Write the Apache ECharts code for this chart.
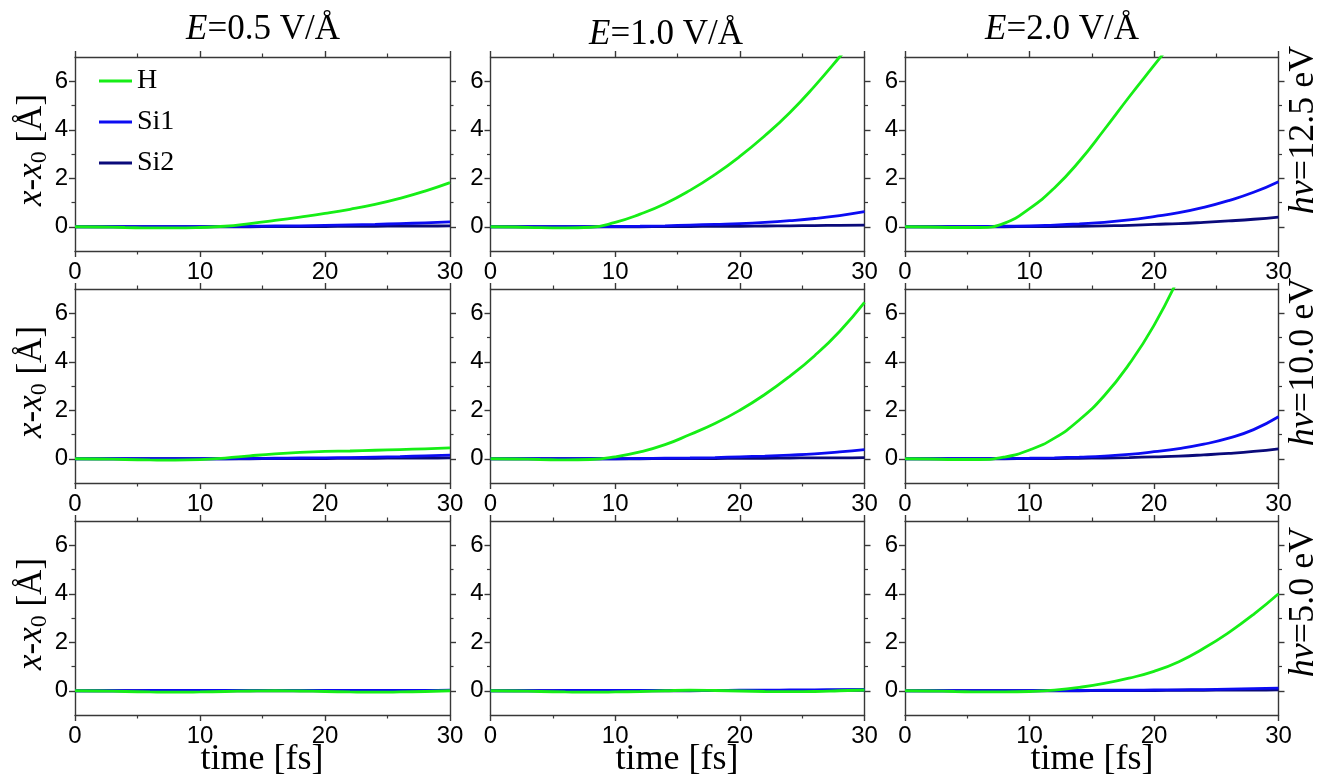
<!DOCTYPE html>
<html><head><meta charset="utf-8">
<script src="https://cdn.jsdelivr.net/npm/echarts@6/dist/echarts.min.js"></script>
<style>html,body{margin:0;padding:0;background:#fff}#c{width:1319px;height:779px}</style>
</head><body><div id="c"></div>
<script>
// ---------- data ----------
const time = [0, 2, 4, 6, 8, 10, 12, 14, 16, 18, 20, 22, 24, 26, 28, 30];
const fieldLabels = ['0.5', '1.0', '2.0'];      // E [V/Å], columns
const photonLabels = ['12.5', '10.0', '5.0'];   // hν [eV], rows
const seriesNames = ['H', 'Si1', 'Si2'];
const xTickValues = [0, 10, 20, 30];
const yTickValues = [0, 2, 4, 6];
const yMinorValues = [1, 3, 5];

// row 1: hν = 12.5 eV
const H_E05_hv125   = [0, -0.01, -0.03, -0.05, -0.05, -0.03, 0.02, 0.13, 0.26, 0.40, 0.55, 0.72, 0.92, 1.17, 1.47, 1.82];
const Si1_E05_hv125 = [0, 0, 0, 0, 0, 0, 0.01, 0.02, 0.03, 0.04, 0.06, 0.08, 0.10, 0.13, 0.16, 0.20];
const Si2_E05_hv125 = [0, 0, 0, 0, 0, 0, 0, 0, 0.01, 0.01, 0.01, 0.02, 0.02, 0.03, 0.03, 0.04];
const H_E10_hv125   = [0, -0.01, -0.04, -0.05, -0.02, 0.18, 0.52, 0.95, 1.50, 2.15, 2.90, 3.75, 4.70, 5.80, 7.00, 8.25];
const Si1_E10_hv125 = [0, 0, 0, 0, 0, 0.01, 0.02, 0.04, 0.07, 0.10, 0.13, 0.18, 0.25, 0.34, 0.46, 0.62];
const Si2_E10_hv125 = [0, 0, 0, 0, 0, 0, 0, 0.01, 0.01, 0.02, 0.02, 0.03, 0.04, 0.05, 0.06, 0.07];
const H_E20_hv125   = [0, -0.01, -0.03, -0.03, 0.15, 0.75, 1.60, 2.70, 4.00, 5.35, 6.65, 7.95, null, null, null, null];
const Si1_E20_hv125 = [0, 0, 0, 0.01, 0.02, 0.03, 0.07, 0.12, 0.18, 0.28, 0.42, 0.58, 0.80, 1.08, 1.42, 1.86];
const Si2_E20_hv125 = [0, 0, 0, 0, 0, 0.01, 0.01, 0.02, 0.04, 0.06, 0.10, 0.13, 0.18, 0.24, 0.31, 0.40];
// row 2: hν = 10.0 eV
const H_E05_hv100   = [0, -0.01, -0.03, -0.05, -0.06, -0.04, 0.03, 0.12, 0.20, 0.26, 0.30, 0.32, 0.35, 0.38, 0.41, 0.45];
const Si1_E05_hv100 = [0, 0, 0, 0, 0, 0, 0, 0.01, 0.02, 0.03, 0.04, 0.05, 0.07, 0.09, 0.12, 0.15];
const Si2_E05_hv100 = [0, 0, 0, 0, 0, 0, 0, 0, 0.01, 0.01, 0.01, 0.02, 0.02, 0.03, 0.03, 0.04];
const H_E10_hv100   = [0, -0.01, -0.03, -0.05, -0.03, 0.08, 0.28, 0.58, 1.00, 1.45, 2.00, 2.65, 3.40, 4.25, 5.25, 6.45];
const Si1_E10_hv100 = [0, 0, 0, 0, 0, 0, 0.01, 0.02, 0.03, 0.05, 0.08, 0.11, 0.15, 0.20, 0.28, 0.38];
const Si2_E10_hv100 = [0, 0, 0, 0, 0, 0, 0, 0.01, 0.01, 0.01, 0.02, 0.02, 0.03, 0.04, 0.04, 0.05];
const H_E20_hv100   = [0, -0.01, -0.03, -0.03, 0.07, 0.36, 0.85, 1.60, 2.60, 3.90, 5.50, 7.50, null, null, null, null];
const Si1_E20_hv100 = [0, 0, 0, 0, 0.01, 0.02, 0.04, 0.07, 0.11, 0.18, 0.29, 0.42, 0.60, 0.85, 1.20, 1.73];
const Si2_E20_hv100 = [0, 0, 0, 0, 0, 0.01, 0.01, 0.02, 0.03, 0.05, 0.08, 0.11, 0.16, 0.22, 0.30, 0.41];
// row 3: hν = 5.0 eV
const H_E05_hv50    = [0, -0.01, -0.03, -0.05, -0.06, -0.05, -0.03, -0.01, 0, -0.01, -0.03, -0.05, -0.06, -0.05, -0.03, 0];
const Si1_E05_hv50  = [0, 0, 0, 0.01, 0.01, 0.01, 0.01, 0.01, 0.01, 0.01, 0.01, 0.01, 0.01, 0.01, 0.01, 0.02];
const Si2_E05_hv50  = [0, 0, 0, 0, 0, 0, 0, 0, 0, 0, 0, 0, 0, 0, 0.01, 0.01];
const H_E10_hv50    = [0, -0.01, -0.03, -0.05, -0.06, -0.05, -0.03, 0, 0.02, 0.01, -0.01, -0.03, -0.04, -0.03, 0, 0.03];
const Si1_E10_hv50  = [0, 0, 0, 0.01, 0.01, 0.01, 0.01, 0.01, 0.01, 0.01, 0.02, 0.02, 0.03, 0.04, 0.05, 0.06];
const Si2_E10_hv50  = [0, 0, 0, 0, 0, 0, 0, 0, 0, 0.01, 0.01, 0.01, 0.01, 0.01, 0.02, 0.02];
const H_E20_hv50    = [0, -0.01, -0.03, -0.05, -0.05, -0.03, 0.03, 0.14, 0.30, 0.52, 0.80, 1.20, 1.75, 2.40, 3.15, 4.00];
const Si1_E20_hv50  = [0, 0, 0, 0, 0, 0, 0.01, 0.01, 0.02, 0.02, 0.03, 0.04, 0.05, 0.07, 0.09, 0.11];
const Si2_E20_hv50  = [0, 0, 0, 0, 0, 0, 0, 0, 0.01, 0.01, 0.01, 0.02, 0.02, 0.03, 0.03, 0.04];

const panels = [
  [[H_E05_hv125, Si1_E05_hv125, Si2_E05_hv125], [H_E10_hv125, Si1_E10_hv125, Si2_E10_hv125], [H_E20_hv125, Si1_E20_hv125, Si2_E20_hv125]],
  [[H_E05_hv100, Si1_E05_hv100, Si2_E05_hv100], [H_E10_hv100, Si1_E10_hv100, Si2_E10_hv100], [H_E20_hv100, Si1_E20_hv100, Si2_E20_hv100]],
  [[H_E05_hv50,  Si1_E05_hv50,  Si2_E05_hv50],  [H_E10_hv50,  Si1_E10_hv50,  Si2_E10_hv50],  [H_E20_hv50,  Si1_E20_hv50,  Si2_E20_hv50]]
];

// ---------- layout & style ----------
const colLeft = [75, 490.5, 905];
const colWidth = [375, 374, 373.5];
const rowTop = [57, 289, 521];
const rowHeight = 194;
const colors = ['#16ee16', '#0c0cf2', '#0a0a7a'];
const axisColor = '#383838';
const sansFont = '"Liberation Sans", Arial, sans-serif';
const serifFont = '"Liberation Serif", "Times New Roman", serif';

const grids = [], xAxes = [], yAxes = [], series = [];
const lineCfg = { show: true, onZero: false, lineStyle: { color: axisColor, width: 1.4 } };
const noLine = { show: false, onZero: false };
for (let r = 0; r < 3; r++) {
  for (let c = 0; c < 3; c++) {
    const g = grids.length;
    grids.push({ left: colLeft[c], top: rowTop[r], width: colWidth[c], height: rowHeight, containLabel: false });
    const xBase = { type: 'value', gridIndex: g, min: 0, max: 30, interval: 10, splitLine: { show: false },
      axisLine: lineCfg, axisTick: { show: true, inside: false, length: 6, lineStyle: { color: axisColor, width: 1.4 } },
      minorTick: { show: true, splitNumber: 2, length: 3.5, lineStyle: { color: axisColor, width: 1.2 } },
      minorSplitLine: { show: false } };
    const xi = xAxes.length;
    xAxes.push(Object.assign({}, xBase, { position: 'bottom',
      axisLabel: { show: true, margin: 9, color: '#000', fontSize: 24, fontFamily: sansFont,
        customValues: xTickValues } }));
    xAxes.push(Object.assign({}, xBase, { position: 'top', axisLabel: { show: false } }));
    const yBase = { type: 'value', gridIndex: g, min: -1, max: 7, interval: 1, splitLine: { show: false } };
    const yi = yAxes.length;
    yAxes.push(Object.assign({}, yBase, { position: 'left', axisLine: lineCfg,
      axisTick: { show: true, length: 6, customValues: yTickValues, lineStyle: { color: axisColor, width: 1.4 } },
      axisLabel: { show: true, margin: 7, color: '#000', fontSize: 24, fontFamily: sansFont, customValues: yTickValues } }));
    yAxes.push(Object.assign({}, yBase, { position: 'left', axisLine: noLine,
      axisTick: { show: true, length: 3.5, customValues: yMinorValues, lineStyle: { color: axisColor, width: 1.2 } },
      axisLabel: { show: false } }));
    yAxes.push(Object.assign({}, yBase, { position: 'right', axisLine: lineCfg,
      axisTick: { show: true, length: 6, customValues: yTickValues, lineStyle: { color: axisColor, width: 1.4 } },
      axisLabel: { show: false } }));
    yAxes.push(Object.assign({}, yBase, { position: 'right', axisLine: noLine,
      axisTick: { show: true, length: 3.5, customValues: yMinorValues, lineStyle: { color: axisColor, width: 1.2 } },
      axisLabel: { show: false } }));
    // draw Si2, Si1, then H on top
    for (let s = 2; s >= 0; s--) {
      const vals = panels[r][c][s];
      series.push({
        name: seriesNames[s], type: 'line', xAxisIndex: xi, yAxisIndex: yi,
        data: time.map((t, k) => [t, vals[k]]),
        smooth: 0.5, symbol: 'none', showSymbol: false, clip: true, z: 5 - s,
        lineStyle: { color: colors[s], width: 2.8 }, itemStyle: { color: colors[s] }
      });
    }
  }
}

const graphics = [];
const titleX = [263, 666, 1062];
const titleY = [30, 35, 30];
for (let c = 0; c < 3; c++) {
  graphics.push({ type: 'text', x: titleX[c], y: titleY[c], style: {
    text: '{i|E}{n|=' + fieldLabels[c] + ' V/Å}',
    rich: { i: { fontSize: 35, fontFamily: serifFont, fontStyle: 'italic', fill: '#000' },
            n: { fontSize: 35, fontFamily: serifFont, fill: '#000' } },
    fontSize: 35, fontFamily: serifFont, align: 'center', verticalAlign: 'middle', fill: '#000' } });
}
const sideY = [130, 362, 602];
const ylabY = [150, 382, 614];
for (let r = 0; r < 3; r++) {
  graphics.push({ type: 'text', x: 1304, y: sideY[r], rotation: Math.PI / 2, style: {
    text: '{i|hν}{n|=' + photonLabels[r] + ' eV}',
    rich: { i: { fontSize: 36, fontFamily: serifFont, fontStyle: 'italic', fill: '#000' },
            n: { fontSize: 36, fontFamily: serifFont, fill: '#000' } },
    fontSize: 36, fontFamily: serifFont, align: 'center', verticalAlign: 'middle', fill: '#000' } });
  graphics.push({ type: 'text', x: 33, y: ylabY[r], rotation: Math.PI / 2, style: {
    text: '{i|x}{n|-}{i|x}{s|0}{n| [Å]}',
    rich: { i: { fontSize: 35, fontFamily: serifFont, fontStyle: 'italic', fill: '#000', lineHeight: 36, verticalAlign: 'top' },
            n: { fontSize: 35, fontFamily: serifFont, fill: '#000', lineHeight: 36, verticalAlign: 'top' },
            s: { fontSize: 24, fontFamily: serifFont, fill: '#000', lineHeight: 38, verticalAlign: 'bottom' } },
    fontSize: 35, fontFamily: serifFont, align: 'center', verticalAlign: 'middle', fill: '#000' } });
}
const timeX = [262, 677, 1092];
for (let c = 0; c < 3; c++) {
  graphics.push({ type: 'text', x: timeX[c], y: 760, style: {
    text: 'time [fs]', fontSize: 36, fontFamily: serifFont, align: 'center', verticalAlign: 'middle', fill: '#000' } });
}

const chart = echarts.init(document.getElementById('c'), null, { renderer: 'canvas' });
chart.setOption({
  animation: false,
  backgroundColor: '#fff',
  grid: grids, xAxis: xAxes, yAxis: yAxes, series: series,
  legend: { data: seriesNames, orient: 'vertical', left: 99, top: 67, itemGap: 13,
    icon: 'rect', itemWidth: 33, itemHeight: 3, padding: 0,
    textStyle: { fontSize: 28, fontFamily: serifFont, color: '#000' } },
  graphic: graphics
});
</script></body></html>
